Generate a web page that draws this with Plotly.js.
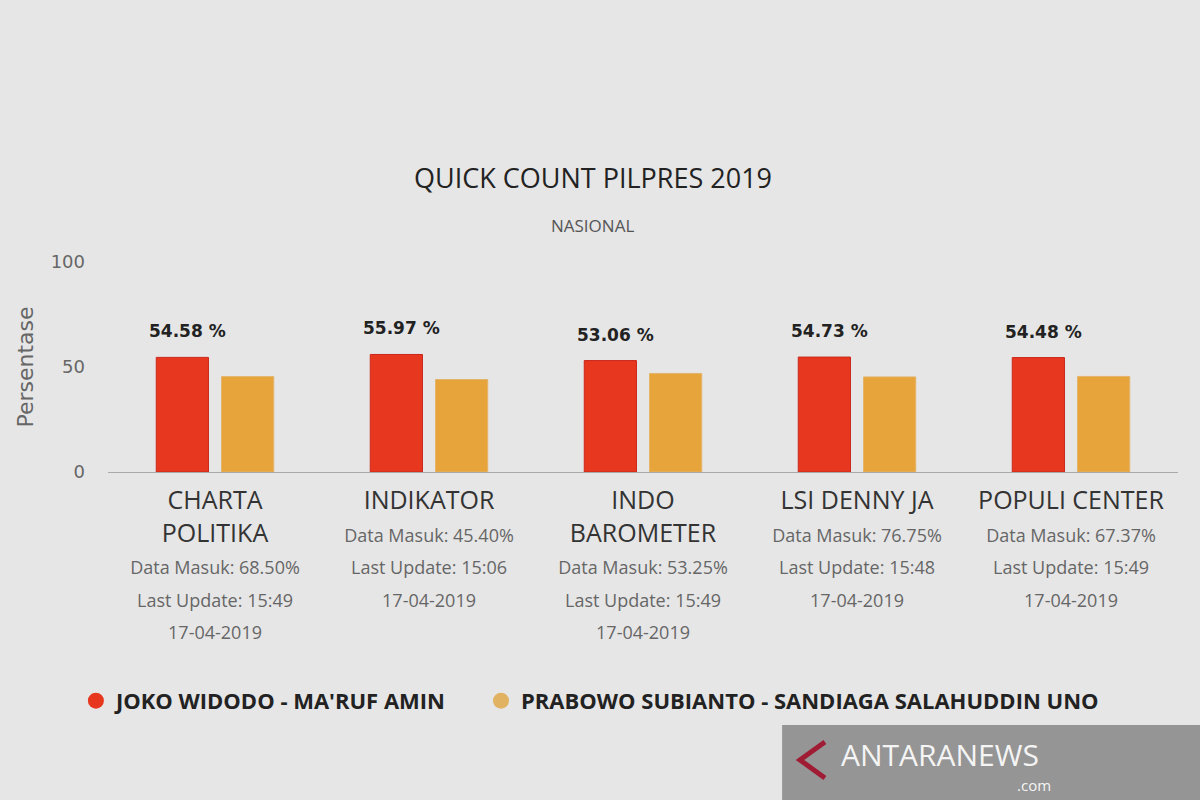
<!DOCTYPE html>
<html>
<head>
<meta charset="utf-8">
<script src="https://cdn.plot.ly/plotly-3.0.1.min.js"></script>
<style>html,body{margin:0;padding:0;background:#e6e6e6;}#chart{width:1200px;height:800px;}</style>
</head>
<body>
<div id="chart"></div>
<script>
const categories = ["CHARTA POLITIKA", "INDIKATOR", "INDO BAROMETER", "LSI DENNY JA", "POPULI CENTER"];
const nameLines = ["CHARTA<br>POLITIKA", "INDIKATOR", "INDO<br>BAROMETER", "LSI DENNY JA", "POPULI CENTER"];
const dataMasuk = ["68.50%", "45.40%", "53.25%", "76.75%", "67.37%"];
const lastUpdate = ["15:49", "15:06", "15:49", "15:48", "15:49"];
const updateDate = ["17-04-2019", "17-04-2019", "17-04-2019", "17-04-2019", "17-04-2019"];
const jokowi = [54.58, 55.97, 53.06, 54.73, 54.48];
const prabowo = [45.42, 44.03, 46.94, 45.27, 45.52];
const seriesNames = ["JOKO WIDODO - MA'RUF AMIN", "PRABOWO SUBIANTO - SANDIAGA SALAHUDDIN UNO"];
const yTicks = [0, 50, 100];

const RED = "#e8371f", ORANGE = "#e6a43a";

const tickText = categories.map((c, i) =>
  nameLines[i] +
  "<br><span style='font-size:18px;color:#666'>Data Masuk: " + dataMasuk[i] + "</span>" +
  "<br><span style='font-size:18px;color:#666'>Last Update: " + lastUpdate[i] + "</span>" +
  "<br><span style='font-size:18px;color:#666'>" + updateDate[i] + "</span>");

const traces = [
  {type: "bar", x: categories, y: jokowi, name: seriesNames[0], marker: {color: RED, line: {color: "#c9271a", width: 1}}, showlegend: false, hoverinfo: "y"},
  {type: "bar", x: categories, y: prabowo, name: seriesNames[1], marker: {color: ORANGE, line: {color: "#e3b46a", width: 1}}, showlegend: false, hoverinfo: "y"},
  {type: "scatter", mode: "markers", x: [null], y: [null], name: seriesNames[0], legend: "legend", marker: {color: RED, size: 18, symbol: "circle"}},
  {type: "scatter", mode: "markers", x: [null], y: [null], name: seriesNames[1], legend: "legend2", marker: {color: "#e0b262", size: 18, symbol: "circle"}}
];

const annotations = categories.map((c, i) => ({
  x: c, y: jokowi[i], xref: "x", yref: "y", xshift: -28, yshift: 26,
  text: "<b>" + jokowi[i].toFixed(2) + " %</b>", showarrow: false,
  font: {family: "DejaVu Sans", size: 17, color: "#222"}
}));
annotations.push({
  xref: "paper", yref: "paper", x: 0.453, y: 1.5, text: "QUICK COUNT PILPRES 2019", showarrow: false,
  font: {family: "Open Sans", size: 27, color: "#222"}
});
annotations.push({
  xref: "paper", yref: "paper", x: 0.453, y: 1.24, text: "NASIONAL", showarrow: false,
  font: {family: "Open Sans", size: 17, color: "#555"}
});
annotations.push({
  xref: "paper", yref: "paper", x: 0.778, y: -1.345, xanchor: "center", yanchor: "middle", text: "ANTARANEWS", showarrow: false,
  font: {family: "Open Sans", size: 30, color: "#f4f4f4"}
});
annotations.push({
  xref: "paper", yref: "paper", x: 0.865, y: -1.49, xanchor: "center", yanchor: "middle", text: ".com", showarrow: false,
  font: {family: "Open Sans", size: 15, color: "#f4f4f4"}
});

const legendFont = {family: "Open Sans", size: 22, color: "#222", weight: "bold"};

const layout = {
  width: 1200, height: 800,
  paper_bgcolor: "#e6e6e6", plot_bgcolor: "#e6e6e6",
  margin: {l: 108, r: 22, t: 262, b: 328},
  font: {family: "Open Sans", color: "#444"},
  barmode: "group", bargap: 0.39, bargroupgap: 0.2,
  xaxis: {
    tickmode: "array", tickvals: categories, ticktext: tickText,
    tickfont: {family: "Open Sans", size: 25, color: "#333"},
    showline: true, linecolor: "#aaa", linewidth: 1, ticks: "", showgrid: false, fixedrange: true,
    ticklabelstandoff: 6
  },
  yaxis: {
    range: [0, 100], tickmode: "array", tickvals: yTicks,
    tickfont: {family: "DejaVu Sans", size: 18, color: "#666"},
    showgrid: false, zeroline: false, showline: false, ticks: "", ticklabelstandoff: 22,
    title: {text: "Persentase", font: {family: "DejaVu Sans", size: 22, color: "#666"}, standoff: 10}
  },
  legend: {
    orientation: "h", x: -0.03, y: -1.09, xanchor: "left", yanchor: "middle",
    font: legendFont, itemwidth: 30, bgcolor: "rgba(0,0,0,0)"
  },
  legend2: {
    orientation: "h", x: 0.3486, y: -1.09, xanchor: "left", yanchor: "middle",
    font: legendFont, itemwidth: 30, bgcolor: "rgba(0,0,0,0)"
  },
  shapes: [{
    type: "rect", xref: "paper", yref: "paper", x0: 0.63, x1: 1.03, y0: -1.57, y1: -1.205,
    fillcolor: "#959595", line: {width: 0}
  }, {
    type: "path", xref: "paper", yref: "paper",
    path: "M 0.670 -1.286 L 0.6467 -1.371 L 0.670 -1.457",
    line: {color: "#a01c34", width: 5}
  }],
  annotations: annotations,
  showlegend: true
};

Plotly.newPlot("chart", traces, layout, {displayModeBar: false, staticPlot: true});
</script>
</body>
</html>
